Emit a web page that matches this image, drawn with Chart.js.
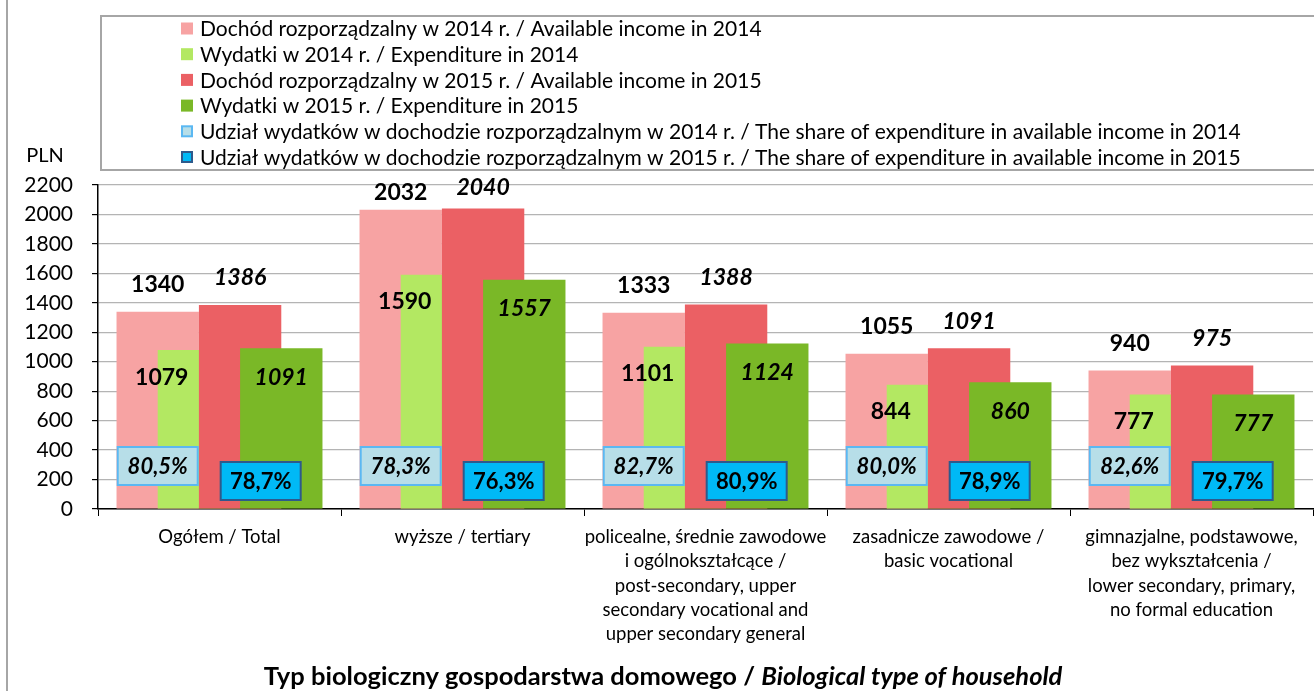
<!DOCTYPE html>
<html>
<head>
<meta charset="utf-8">
<script src="https://cdn.jsdelivr.net/npm/chart.js@4/dist/chart.umd.min.js"></script>
<style>
  html, body { margin: 0; padding: 0; background: #fff; }
  #wrap { width: 1314px; height: 691px; position: relative; }
</style>
</head>
<body>
<div id="wrap"><canvas id="myChart"></canvas></div>
<script>
'use strict';

// categories (x axis)
const categories = [
  'Ogółem / Total',
  'wyższe / tertiary',
  ['policealne, średnie zawodowe', 'i ogólnokształcące /', 'post-secondary, upper', 'secondary vocational and', 'upper secondary general'],
  ['zasadnicze zawodowe /', 'basic vocational'],
  ['gimnazjalne, podstawowe,', 'bez wykształcenia /', 'lower secondary, primary,', 'no formal education']
];

// PLN values
const income2014 = [1340, 2032, 1333, 1055, 940];
const expenditure2014 = [1079, 1590, 1101, 844, 777];
const income2015 = [1386, 2040, 1388, 1091, 975];
const expenditure2015 = [1091, 1557, 1124, 860, 777];

// share of expenditure in available income
const share2014 = ['80,5%', '78,3%', '82,7%', '80,0%', '82,6%'];
const share2015 = ['78,7%', '76,3%', '80,9%', '78,9%', '79,7%'];

const seriesLabels = [
  'Dochód rozporządzalny w 2014 r. / Available income in 2014',
  'Wydatki w 2014 r. / Expenditure in 2014',
  'Dochód rozporządzalny w 2015 r. / Available income in 2015',
  'Wydatki w 2015 r. / Expenditure in 2015'
];
const shareLabels = [
  'Udział wydatków w dochodzie rozporządzalnym w 2014 r. / The share of expenditure in available income in 2014',
  'Udział wydatków w dochodzie rozporządzalnym w 2015 r. / The share of expenditure in available income in 2015'
];

const axisTitle = 'Typ biologiczny gospodarstwa domowego / ';
const axisTitleEn = 'Biological type of household';

var colors = ['#F7A3A3', '#B3E862', '#EB6064', '#7AB827'];
var share14Style = { fill: '#B7DEE8', border: '#5BB8F2' };
var share15Style = { fill: '#00B9F6', border: '#2E5A8C' };
var FONT = 'Lato';

// Excel draws the overlapped bars with later series on top
const drawInOrder = {
  id: 'drawInOrder',
  beforeDatasetsDraw(chart) {
    chart.getSortedVisibleDatasetMetas().forEach(meta => meta.controller.draw());
    return false;
  }
};

const legendBox = {
  id: 'legendBox',
  afterDraw(chart) {
    const ctx = chart.ctx;
    ctx.save();
    // outer frame, left edge only is visible
    ctx.strokeStyle = '#A6A6A6';
    ctx.lineWidth = 2;
    ctx.beginPath(); ctx.moveTo(7, 0); ctx.lineTo(7, chart.height); ctx.stroke();
    ctx.strokeRect(101, 16, chart.width, 154);

    ctx.font = '21px ' + FONT;
    ctx.textBaseline = 'middle';
    ctx.textAlign = 'left';
    let y = 28.5;
    seriesLabels.forEach((lab, i) => {
      ctx.fillStyle = colors[i];
      ctx.fillRect(181, y - 6, 12, 12);
      ctx.fillStyle = '#000';
      ctx.fillText(lab, 200, y + 1);
      y += 25.7;
    });
    [share14Style, share15Style].forEach((st, i) => {
      ctx.fillStyle = st.fill;
      ctx.fillRect(182, y - 5, 10, 10);
      ctx.strokeStyle = st.border;
      ctx.lineWidth = 2;
      ctx.strokeRect(182, y - 5, 10, 10);
      ctx.fillStyle = '#000';
      ctx.fillText(shareLabels[i], 200, y + 1);
      y += 25.7;
    });

    ctx.font = '20px ' + FONT;
    ctx.textAlign = 'center';
    ctx.fillText('PLN', 45, 156);

    // x axis title, second half in italics
    ctx.font = 'bold 25.5px ' + FONT;
    const w1 = ctx.measureText(axisTitle).width;
    ctx.font = 'italic bold 25.5px ' + FONT;
    const w2 = ctx.measureText(axisTitleEn).width;
    let x0 = 663 - (w1 + w2) / 2;
    ctx.textAlign = 'left';
    ctx.font = 'bold 25.5px ' + FONT;
    ctx.fillText(axisTitle, x0, 677);
    ctx.font = 'italic bold 25.5px ' + FONT;
    ctx.fillText(axisTitleEn, x0 + w1, 677);
    ctx.restore();
  }
};

function shareBox(ctx, x, y, text, st, italic) {
  const w = 80, h = 38;
  ctx.fillStyle = st.fill;
  ctx.fillRect(x - w / 2, y - h / 2, w, h);
  ctx.strokeStyle = st.border;
  ctx.lineWidth = 2;
  ctx.strokeRect(x - w / 2, y - h / 2, w, h);
  ctx.fillStyle = '#000';
  ctx.font = (italic ? 'italic ' : '') + 'bold 22px ' + FONT;
  ctx.fillText(text, x, y + 1);
}

const valueLabels = {
  id: 'valueLabels',
  afterDraw(chart) {
    const ctx = chart.ctx;
    const area = chart.chartArea;
    const m = [0, 1, 2, 3].map(i => chart.getDatasetMeta(i).data);
    ctx.save();
    ctx.textAlign = 'center';
    ctx.textBaseline = 'middle';
    ctx.fillStyle = '#000';
    categories.forEach((c, i) => {
      const pink = m[0][i], lg = m[1][i], red = m[2][i], green = m[3][i];
      ctx.font = 'bold 23px ' + FONT;
      ctx.fillText(income2014[i], pink.x, Math.max(pink.y - 27, area.top + 8));
      ctx.fillText(expenditure2014[i], pink.x + 4, lg.y + 27);
      ctx.font = 'italic bold 23px ' + FONT;
      ctx.fillText(income2015[i], red.x, Math.max(red.y - 27, area.top + 3));
      ctx.fillText(expenditure2015[i], green.x, green.y + 29);

      shareBox(ctx, pink.x, area.bottom - 43, share2014[i], share14Style, true);
      shareBox(ctx, (red.x + green.x) / 2, area.bottom - 28, share2015[i], share15Style, false);
    });
    ctx.restore();
  }
};

const barData = [income2014, expenditure2014, income2015, expenditure2015];

const config = {
  type: 'bar',
  data: {
    labels: categories,
    datasets: barData.map((d, i) => ({
      label: seriesLabels[i],
      data: d,
      backgroundColor: colors[i],
      borderWidth: 0,
      barPercentage: 2,        // 50% overlap like the excel original
      categoryPercentage: 0.678
    }))
  },
  options: {
    responsive: false,
    animation: false,
    events: [],
    layout: { padding: { top: 185, left: 0, right: 1, bottom: 0 } },
    plugins: {
      legend: { display: false },
      tooltip: { enabled: false },
      title: { display: false }
    },
    scales: {
      x: {
        offset: true,
        grid: { offset: true, drawOnChartArea: false, color: '#000', tickLength: 7 },
        border: { color: '#000', width: 1.5 },
        ticks: {
          color: '#000',
          font: { family: FONT, size: 18.5, lineHeight: 1.31 },
          padding: 9,
          maxRotation: 0,
          autoSkip: false
        },
        afterFit(scale) { scale.height = 182; }
      },
      y: {
        min: 0,
        max: 2200,
        grid: { color: '#B4B4B4', tickColor: '#000', tickLength: 6, lineWidth: 1.2 },
        border: { color: '#000', width: 1.5 },
        ticks: {
          stepSize: 200,
          color: '#000',
          font: { family: FONT, size: 21 },
          padding: 19,
          callback: v => String(v)
        },
        afterFit(scale) { scale.width = 98; }
      }
    }
  },
  plugins: [drawInOrder, legendBox, valueLabels]
};

const canvas = document.getElementById('myChart');
canvas.width = 1314;
canvas.height = 691;
let myChart = new Chart(canvas, config);
</script>
</body>
</html>
